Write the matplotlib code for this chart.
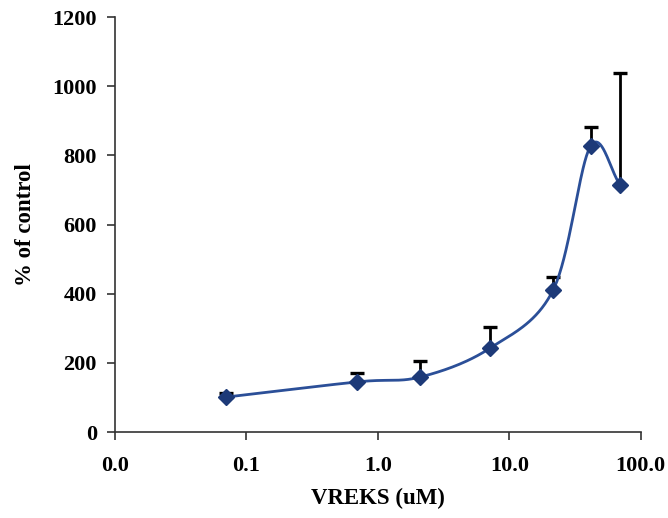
import numpy as np
import matplotlib
matplotlib.use("Agg")
import matplotlib.pyplot as plt
from matplotlib.ticker import FixedLocator, FixedFormatter, NullLocator

# Dose-response data
conc_uM = [0.07, 0.7, 2.1, 7.1, 21.6, 41.6, 70.0]
pct_control = [101, 145, 159, 242, 411, 827, 714]
err_upper = [12, 25, 45, 62, 38, 56, 323]

x_ticks = [0.01, 0.1, 1, 10, 100]
x_tick_labels = ["0.0", "0.1", "1.0", "10.0", "100.0"]
y_ticks = [0, 200, 400, 600, 800, 1000, 1200]


def smooth_curve(xs, ys, n=40, tension=0.5):
    """Cardinal spline through points in (log10 x, y) space."""
    lx = np.log10(np.asarray(xs, float))
    y = np.asarray(ys, float)
    px = np.concatenate([[2 * lx[0] - lx[1]], lx, [2 * lx[-1] - lx[-2]]])
    py = np.concatenate([[2 * y[0] - y[1]], y, [2 * y[-1] - y[-2]]])
    out_x, out_y = [], []
    t = np.linspace(0, 1, n)
    h00 = 2 * t**3 - 3 * t**2 + 1
    h10 = t**3 - 2 * t**2 + t
    h01 = -2 * t**3 + 3 * t**2
    h11 = t**3 - t**2
    for i in range(1, len(px) - 2):
        m0x = tension * (px[i + 1] - px[i - 1])
        m1x = tension * (px[i + 2] - px[i])
        m0y = tension * (py[i + 1] - py[i - 1])
        m1y = tension * (py[i + 2] - py[i])
        out_x.append(h00 * px[i] + h10 * m0x + h01 * px[i + 1] + h11 * m1x)
        out_y.append(h00 * py[i] + h10 * m0y + h01 * py[i + 1] + h11 * m1y)
    return 10 ** np.concatenate(out_x), np.concatenate(out_y)


plt.rcParams["font.family"] = ["Liberation Serif", "DejaVu Serif"]

fig = plt.figure(figsize=(6.68, 5.18), dpi=100)
ax = fig.add_axes([0.1722, 0.166, 0.7869, 0.801])

sx, sy = smooth_curve(conc_uM, pct_control)
ax.plot(sx, sy, color="#2b4f98", lw=2.0, zorder=2)

ax.errorbar(conc_uM, pct_control, yerr=[np.zeros(len(err_upper)), err_upper],
            fmt="none", ecolor="black", elinewidth=2.0, capsize=4.8,
            capthick=2.4, zorder=1)
ax.plot(conc_uM, pct_control, linestyle="none", marker="D", markersize=8.5,
        color="#1d3a78", zorder=3)

ax.set_xscale("log")
ax.set_xlim(0.01, 100)
ax.set_ylim(0, 1200)
ax.xaxis.set_major_locator(FixedLocator(x_ticks))
ax.xaxis.set_major_formatter(FixedFormatter(x_tick_labels))
ax.xaxis.set_minor_locator(NullLocator())
ax.set_yticks(y_ticks)

for side in ("top", "right"):
    ax.spines[side].set_visible(False)
for side in ("left", "bottom"):
    ax.spines[side].set_linewidth(1.2)
    ax.spines[side].set_color("#333333")

ax.tick_params(axis="both", direction="out", length=6, width=1.2,
               color="#333333", labelsize=16)
ax.tick_params(axis="x", pad=11)
ax.tick_params(axis="y", pad=7)
for lbl in ax.get_xticklabels() + ax.get_yticklabels():
    lbl.set_fontweight("bold")

ax.set_xlabel("VREKS (uM)", fontsize=16.5, fontweight="bold", labelpad=9)
ax.set_ylabel("% of control", fontsize=16.5, fontweight="bold", labelpad=12)

fig.savefig("out.png", dpi=100, facecolor="white")
